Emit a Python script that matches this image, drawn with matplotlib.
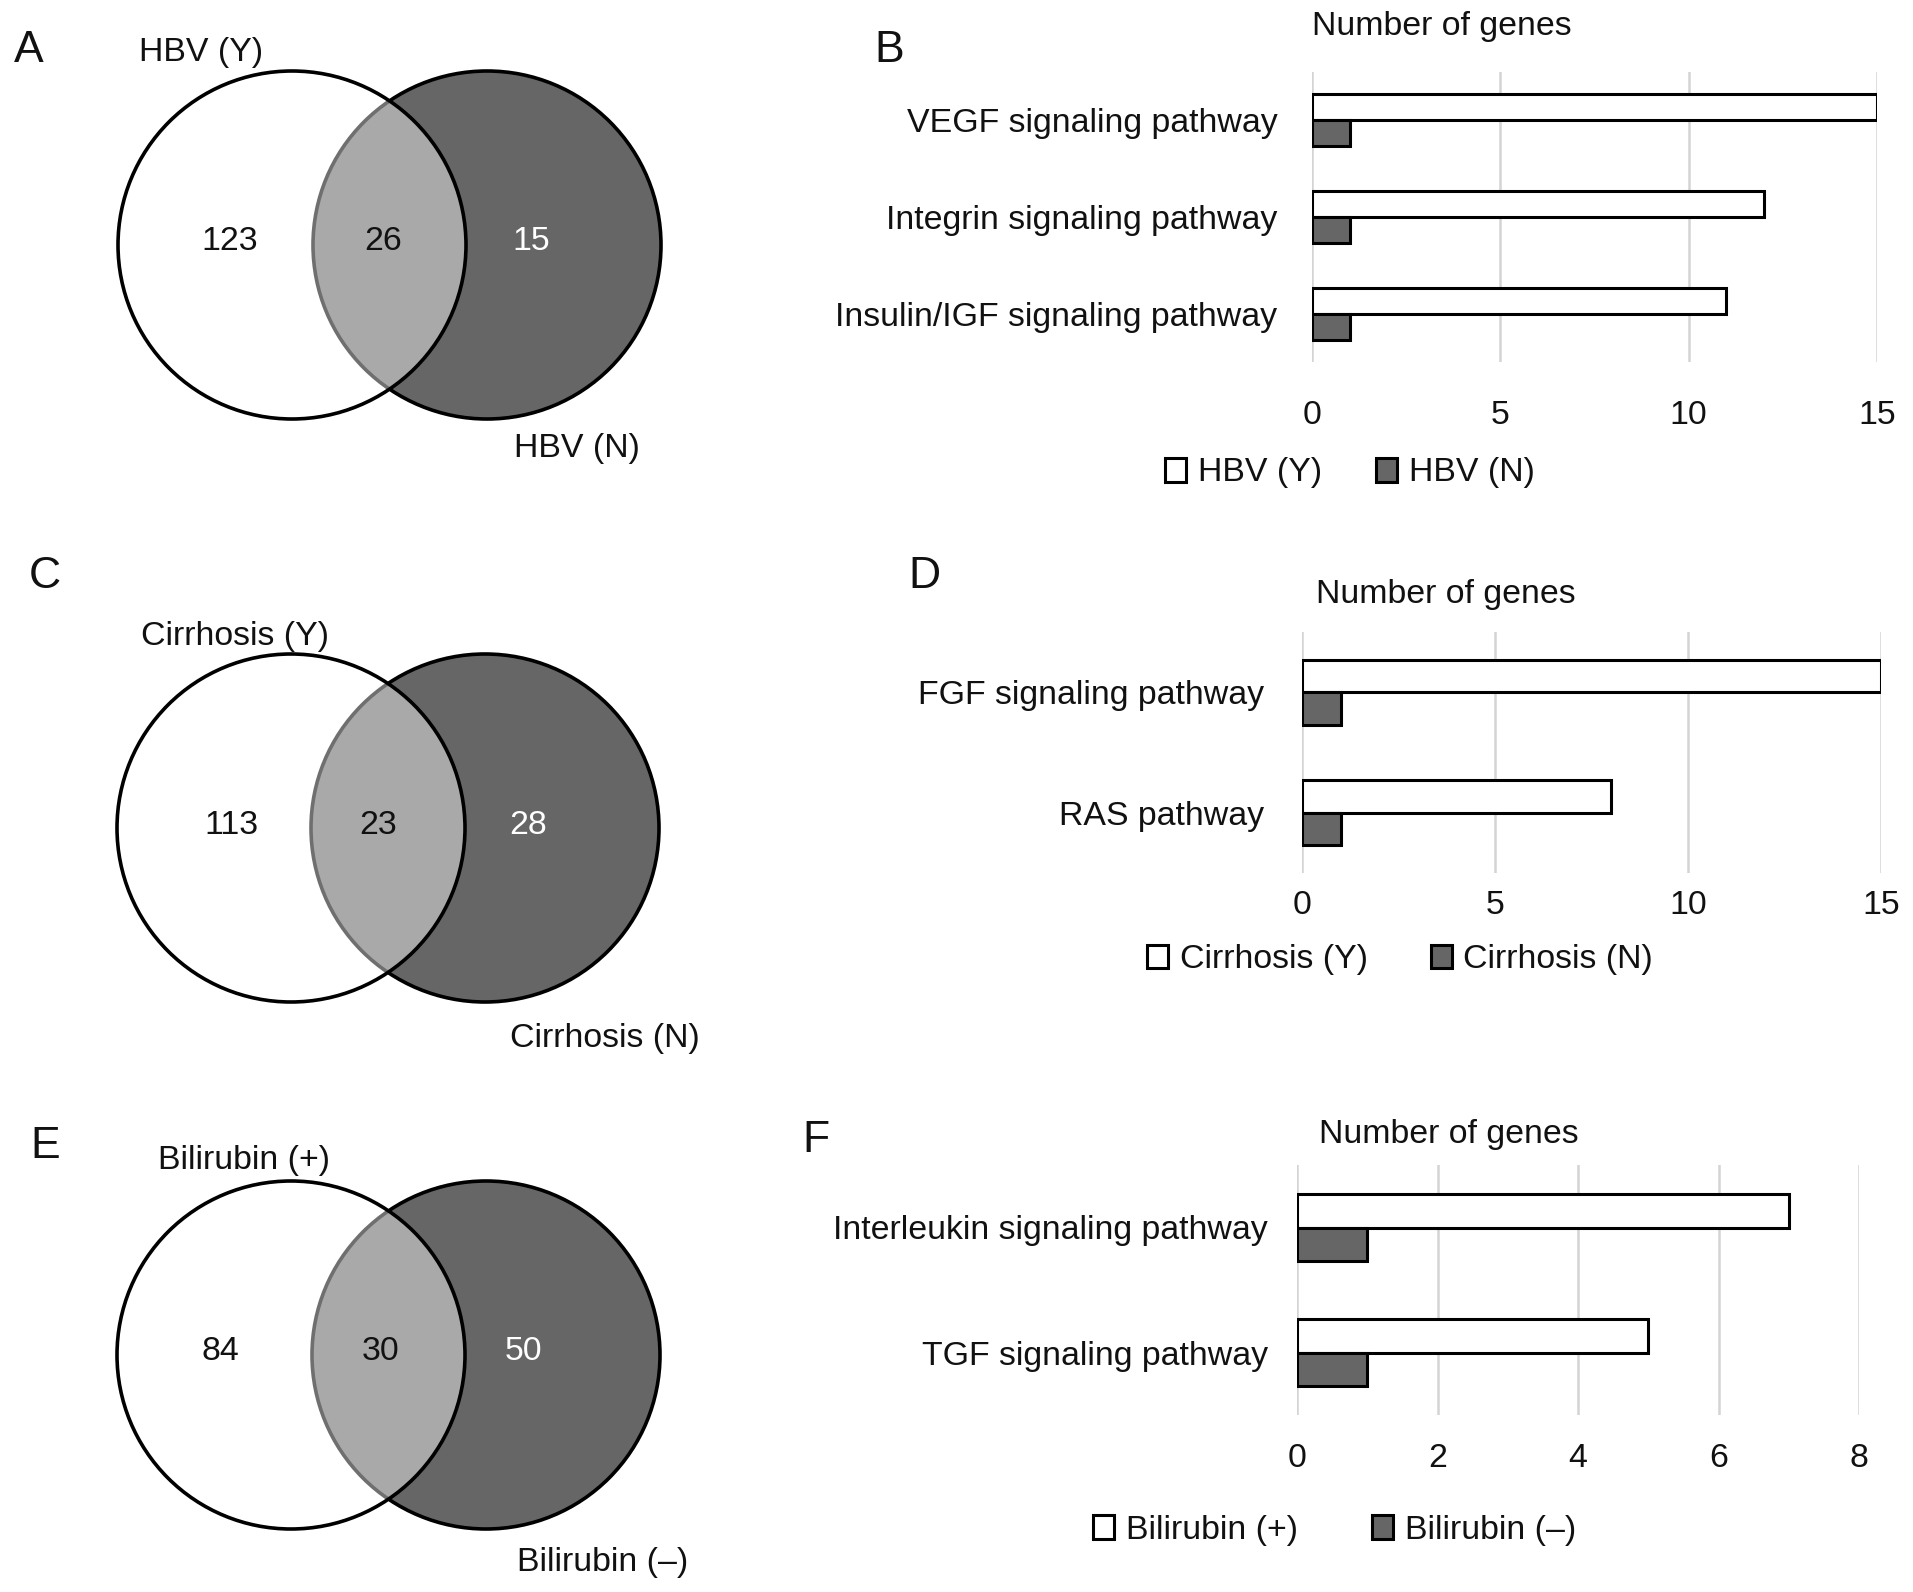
import numpy as np
import matplotlib
matplotlib.use('Agg')
from matplotlib import pyplot as plt
from matplotlib.patches import Circle

plt.rcParams['font.family'] = ['Liberation Sans', 'DejaVu Sans']

# Venn counts: (only first, overlap, only second)
venn_a = [123, 26, 15]
venn_c = [113, 23, 28]
venn_e = [84, 30, 50]
venn_a_labels = ['HBV (Y)', 'HBV (N)']
venn_c_labels = ['Cirrhosis (Y)', 'Cirrhosis (N)']
venn_e_labels = ['Bilirubin (+)', 'Bilirubin (\u2013)']

# bar panels
cats_b = ['VEGF signaling pathway', 'Integrin signaling pathway', 'Insulin/IGF signaling pathway']
yes_b = [15, 12, 11]
no_b = [1, 1, 1]
cats_d = ['FGF signaling pathway', 'RAS pathway']
yes_d = [15, 8]
no_d = [1, 1]
cats_f = ['Interleukin signaling pathway', 'TGF signaling pathway']
yes_f = [7, 5]
no_f = [1, 1]

W, H = 1913, 1592
TXT = '#111111'
DARK = '#666666'
FS = 24.4

fig = plt.figure(figsize=(W / 100, H / 100), dpi=100)

# background axes in pixel units for the venn diagrams and panel letters
bg = fig.add_axes([0, 0, 1, 1])
bg.set_xlim(0, W)
bg.set_ylim(H, 0)
bg.axis('off')


def draw_venn(cx1, cx2, cy, r, counts, labels, lab1_xy, lab2_xy, num_x):
    # second set first, then a half transparent first set on top -> light grey overlap
    bg.add_patch(Circle((cx2, cy), r, facecolor=DARK, edgecolor='black', lw=2.6, zorder=2))
    bg.add_patch(Circle((cx1, cy), r, facecolor=(1, 1, 1, 0.44), edgecolor='black', lw=2.6, zorder=3))
    colors = [TXT, TXT, 'white']
    for x, n, c in zip(num_x, counts, colors):
        bg.text(x, cy - 3, str(n), fontsize=FS, color=c, ha='center', va='center', zorder=4)
    bg.text(lab1_xy[0], lab1_xy[1], labels[0], fontsize=FS, color=TXT, ha='center', va='center')
    bg.text(lab2_xy[0], lab2_xy[1], labels[1], fontsize=FS, color=TXT, ha='center', va='center')


draw_venn(292, 487, 245, 174, venn_a, venn_a_labels, (201, 52), (577, 449), [230, 383, 531])
draw_venn(291, 485, 828, 174, venn_c, venn_c_labels, (235, 637), (605, 1038), [231, 378, 528])
draw_venn(291, 486, 1355, 174, venn_e, venn_e_labels, (244, 1160), (603, 1563), [220, 381, 523])

for letter, x, y in [('A', 29, 51), ('C', 45, 576), ('E', 45, 1147),
                     ('B', 889, 51), ('D', 924, 577), ('F', 816, 1141)]:
    bg.text(x, y, letter, fontsize=32, color=TXT, ha='center', va='center')


def bar_panel(x0, x1, y0, y1, cats, yes, no, xmax, step, labels, labpad, tickpad,
              title_xy, leg_x, leg_y, colspace):
    ax = fig.add_axes([x0 / W, 1 - y1 / H, (x1 - x0) / W, (y1 - y0) / H])
    pos = np.arange(len(cats))
    h = 0.27
    b1 = ax.barh(pos - h / 2, yes, height=h, color='white', edgecolor='black', lw=2.2, zorder=3)
    b2 = ax.barh(pos + h / 2, no, height=h, color=DARK, edgecolor='black', lw=2.2, zorder=3)
    ax.set_xlim(0, xmax)
    ax.set_ylim(len(cats) - 0.5, -0.5)
    ax.set_xticks(np.arange(0, xmax + 1, step))
    ax.set_yticks(pos)
    ax.set_yticklabels(cats)
    ax.xaxis.grid(True, color='#d4d4d4', lw=1.8, zorder=0)
    ax.set_axisbelow(True)
    for s in ax.spines.values():
        s.set_visible(False)
    ax.tick_params(axis='x', length=0, pad=tickpad, labelsize=FS, labelcolor=TXT)
    ax.tick_params(axis='y', length=0, pad=labpad, labelsize=FS, labelcolor=TXT)
    fig.text(title_xy[0] / W, 1 - title_xy[1] / H, 'Number of genes', fontsize=FS,
             color=TXT, ha='center', va='center')
    fig.legend([b1, b2], labels, loc='center left', bbox_to_anchor=(leg_x / W, 1 - leg_y / H),
               ncol=2, frameon=False, fontsize=FS, handlelength=0.62, handleheight=0.7,
               handletextpad=0.35, columnspacing=colspace, borderpad=0, borderaxespad=0,
               labelcolor=TXT)
    return ax


bar_panel(1312, 1877, 72, 362, cats_b, yes_b, no_b, 15, 5, venn_a_labels, 25, 27,
          (1442, 27), 1165, 473, 1.6)
bar_panel(1302, 1881, 632, 873, cats_d, yes_d, no_d, 15, 5, venn_c_labels, 27, 12,
          (1446, 595), 1147, 960, 1.85)
bar_panel(1297, 1859, 1165, 1415, cats_f, yes_f, no_f, 8, 2, venn_e_labels, 21, 20,
          (1449, 1135), 1093, 1530, 2.2)

fig.savefig('out.png', dpi=100, facecolor='white')
